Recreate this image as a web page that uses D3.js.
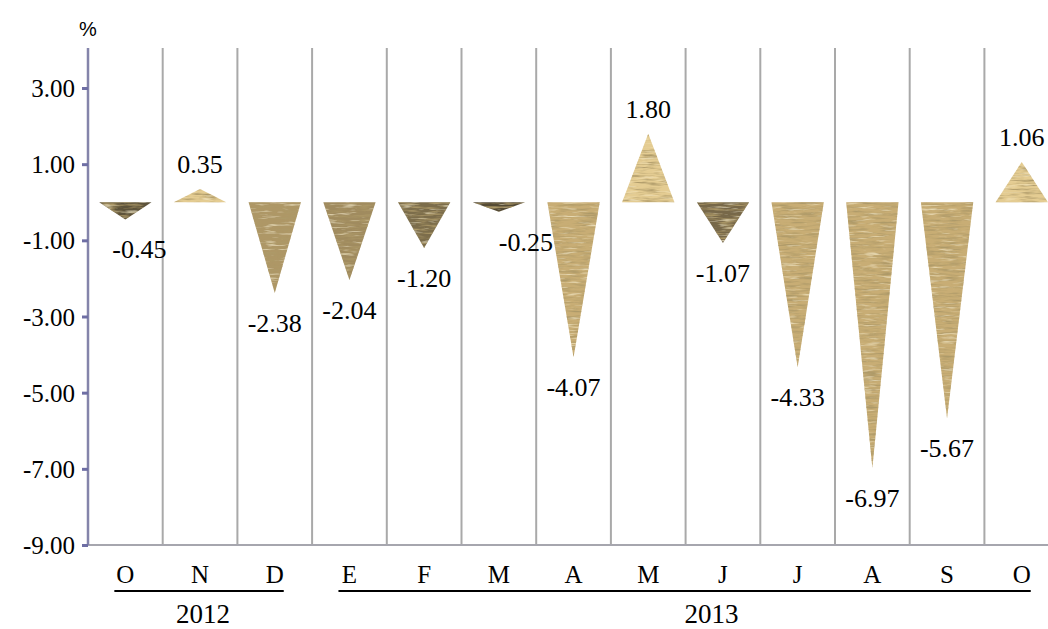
<!DOCTYPE html>
<html><head><meta charset="utf-8">
<script src="https://cdn.jsdelivr.net/npm/d3@7"></script>
<style>body{margin:0;background:#fff}svg{display:block}
.serif{font-family:"Liberation Serif","Times New Roman",serif}</style>
</head><body>
<script>
const categories = ["O","N","D","E","F","M","A","M","J","J","A","S","O"];
const values = [-0.45,0.35,-2.38,-2.04,-1.20,-0.25,-4.07,1.80,-1.07,-4.33,-6.97,-5.67,1.06];
const yTicks = [-9,-7,-5,-3,-1,1,3];
const years = [{label:"2012", from:0, to:2},{label:"2013", from:3, to:12}];

(function(){
const W=1048,H=629;
const svg=d3.select("body").append("svg").attr("width",W).attr("height",H);
const defs=svg.append("defs");
const f=defs.append("filter").attr("id","straw").attr("x",-0.05).attr("y",-0.05).attr("width",1.1).attr("height",1.1);
f.append("feTurbulence").attr("type","fractalNoise").attr("baseFrequency","0.05 0.45").attr("numOctaves",3).attr("seed",11).attr("result","n");
f.append("feColorMatrix").attr("in","n").attr("type","matrix")
 .attr("values","0 0 0 0 0.42  0 0 0 0 0.32  0 0 0 0 0.14  2.6 0 0 0 -1.15").attr("result","dk");
f.append("feColorMatrix").attr("in","n").attr("type","matrix")
 .attr("values","0 0 0 0 0.95  0 0 0 0 0.86  0 0 0 0 0.60  0 -2.0 0 0 0.85").attr("result","lt");
f.append("feComposite").attr("in","dk").attr("in2","SourceAlpha").attr("operator","in").attr("result","dk2");
f.append("feComposite").attr("in","lt").attr("in2","SourceAlpha").attr("operator","in").attr("result","lt2");
const fm=f.append("feMerge");
fm.append("feMergeNode").attr("in","SourceGraphic");
fm.append("feMergeNode").attr("in","dk2");
fm.append("feMergeNode").attr("in","lt2");

const x0=88, step=74.7;
const x=d3.scaleBand().domain(d3.range(categories.length)).range([x0,x0+step*categories.length]).paddingInner(0.3).paddingOuter(0.15);
const y=d3.scaleLinear().domain([-9,3]).range([545,88]);
const plotTop=48, plotBottom=y(-9);

const bounds=d3.range(1,categories.length+1).map(i=>x0+x.step()*i);
svg.append("g").selectAll("line").data(bounds).join("line")
 .attr("x1",d=>d).attr("x2",d=>d).attr("y1",plotTop).attr("y2",plotBottom)
 .attr("stroke","#a9a9a9").attr("stroke-width",2);
svg.append("line").attr("x1",x0).attr("x2",W).attr("y1",plotBottom).attr("y2",plotBottom)
 .attr("stroke","#a6a6ae").attr("stroke-width",2);
const fmt=d=>d3.format(".2f")(d).replace("\u2212","-");
const yAxis=d3.axisLeft(y).tickValues(yTicks).tickFormat(fmt).tickSize(6).tickPadding(7);
const ga=svg.append("g").attr("transform",`translate(${x0},0)`).call(yAxis);
ga.attr("font-family",null).attr("font-size",null);
ga.select(".domain").attr("d",`M0,${plotTop}V${plotBottom}`).attr("stroke","#8484aa").attr("stroke-width",2.5);
ga.selectAll(".tick line").attr("stroke","#6e6ea4").attr("stroke-width",3);
ga.selectAll(".tick text").attr("class","serif").style("font-size","25px").attr("fill","#000").attr("dy","0.34em");
svg.append("text").attr("x",x0).attr("y",36).attr("text-anchor","middle")
 .style("font-family","'Liberation Sans',Arial,sans-serif").style("font-size","20px").text("%");

const tone=v=>v>0?"#e4cc92":d3.interpolateRgb("#4a4230","#c8ad74")(Math.min(1,Math.abs(v)/3));
const cx=i=>x(i)+x.bandwidth()/2;
svg.append("g").selectAll("path").data(values).join("path")
 .attr("d",(v,i)=>{const l=x(i),r=x(i)+x.bandwidth(),z=y(0),t=y(v);return `M${l},${z}L${r},${z}L${cx(i)},${t}Z`;})
 .attr("fill",d=>tone(d)).attr("filter","url(#straw)");

const nudgeX={0:14,5:27};
svg.append("g").selectAll("text").data(values).join("text")
 .attr("class","serif")
 .attr("x",(v,i)=>cx(i)+(nudgeX[i]||0))
 .attr("y",v=>v<0?y(v)+30:y(v)-25).attr("dy","0.35em")
 .attr("text-anchor","middle").style("font-size","26px")
 .text(v=>v.toFixed(2));

svg.append("g").selectAll("text").data(categories).join("text")
 .attr("class","serif")
 .attr("x",(c,i)=>cx(i)).attr("y",583).attr("text-anchor","middle")
 .style("font-size","25px").text(c=>c);

const yg=svg.append("g").selectAll("g").data(years).join("g");
yg.append("line").attr("x1",d=>cx(d.from)-11).attr("x2",d=>cx(d.to)+9).attr("y1",591).attr("y2",591)
 .attr("stroke","#000").attr("stroke-width",2);
yg.append("text").attr("class","serif").attr("x",d=>d.label==="2012"?(cx(d.from)+cx(d.to))/2+3:(cx(d.from)+cx(d.to))/2+26)
 .attr("y",623).attr("text-anchor","middle").style("font-size","27px").text(d=>d.label);
})();
</script>
</body></html>
